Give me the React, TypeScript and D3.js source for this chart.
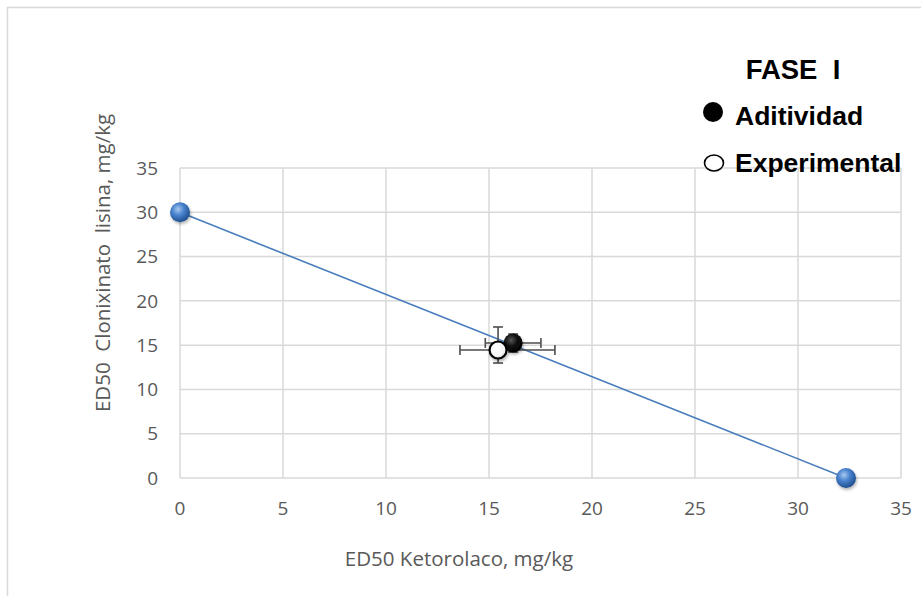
import React from "react";
import * as d3 from "d3";

const W = 921;
const H = 596;

// isobolo line (Fase I)
const lineX = [0, 32.33];
const lineY = [30, 0];

// Aditividad (theoretical) point with error bars
const addX = [16.17];
const addY = [15.24];
const addXLow = [14.82];
const addXHigh = [17.52];
const addYLow = [14.22];
const addYHigh = [16.26];

// Experimental point with error bars
const expX = [15.44];
const expY = [14.45];
const expXLow = [13.59];
const expXHigh = [18.2];
const expYLow = [12.98];
const expYHigh = [17.05];

const xTicks = [0, 5, 10, 15, 20, 25, 30, 35];
const yTicks = [0, 5, 10, 15, 20, 25, 30, 35];

const grey = "#595959";
const gridCol = "#d9d9d9";
const font = "'Open Sans', sans-serif";
const legendFont = "'Liberation Sans', Arial, sans-serif";

function App() {
  const x = d3.scaleLinear().domain([0, 35]).range([180, 901]);
  const y = d3.scaleLinear().domain([0, 35]).range([478, 168]);

  const line = d3
    .line<number>()
    .x((d) => x(lineX[d]))
    .y((d) => y(lineY[d]));

  const cap = 5;
  const errBars = (
    xs: number[], ys: number[], xl: number[], xh: number[], yl: number[], yh: number[], key: string
  ) =>
    xs.map((v, i) => (
      <g key={key + i} stroke="#4d4d4d" strokeWidth={1.6} fill="none">
        <line x1={x(xl[i])} x2={x(xh[i])} y1={y(ys[i])} y2={y(ys[i])} />
        <line x1={x(xl[i])} x2={x(xl[i])} y1={y(ys[i]) - cap} y2={y(ys[i]) + cap} />
        <line x1={x(xh[i])} x2={x(xh[i])} y1={y(ys[i]) - cap} y2={y(ys[i]) + cap} />
        <line x1={x(v)} x2={x(v)} y1={y(yl[i])} y2={y(yh[i])} />
        <line x1={x(v) - cap} x2={x(v) + cap} y1={y(yl[i])} y2={y(yl[i])} />
        <line x1={x(v) - cap} x2={x(v) + cap} y1={y(yh[i])} y2={y(yh[i])} />
      </g>
    ));

  return (
    <div style={{ position: "absolute", left: 0, top: 0 }}>
      <svg width={W} height={H} style={{ display: "block" }}>
        <defs>
          <radialGradient id="blueBall" cx="0.4" cy="0.35" r="0.65">
            <stop offset="0" stopColor="#a9c8f0" />
            <stop offset="0.45" stopColor="#4a84cf" />
            <stop offset="1" stopColor="#1f4f8f" />
          </radialGradient>
          <radialGradient id="blackBall" cx="0.4" cy="0.35" r="0.65">
            <stop offset="0" stopColor="#555" />
            <stop offset="0.5" stopColor="#111" />
            <stop offset="1" stopColor="#000" />
          </radialGradient>
          <radialGradient id="whiteBall" cx="0.4" cy="0.35" r="0.7">
            <stop offset="0" stopColor="#fff" />
            <stop offset="0.7" stopColor="#f4f4f4" />
            <stop offset="1" stopColor="#cfcfcf" />
          </radialGradient>
          <filter id="shadow" x="-50%" y="-50%" width="200%" height="200%">
            <feDropShadow dx="1" dy="2" stdDeviation="1.5" floodColor="#000" floodOpacity="0.3" />
          </filter>
        </defs>

        <rect x={0} y={0} width={W} height={H} fill="#fff" />
        <rect x={7.5} y={7.5} width={W + 40} height={H + 40} fill="none" stroke={gridCol} strokeWidth={1.5} />

        {/* grid */}
        {xTicks.map((t) => (
          <line key={"gx" + t} x1={x(t)} x2={x(t)} y1={y(0)} y2={y(35)} stroke={gridCol} strokeWidth={1.5} />
        ))}
        {yTicks.map((t) => (
          <line key={"gy" + t} x1={x(0)} x2={x(35)} y1={y(t)} y2={y(t)} stroke={gridCol} strokeWidth={1.5} />
        ))}

        {/* tick labels */}
        {xTicks.map((t) => (
          <text key={"tx" + t} x={x(t)} y={y(0) + 37} textAnchor="middle" fontFamily={font} fontSize={19} fill={grey}>
            {t}
          </text>
        ))}
        {yTicks.map((t) => (
          <text key={"ty" + t} x={158} y={y(t)} dy="0.35em" textAnchor="end" fontFamily={font} fontSize={19} fill={grey}>
            {t}
          </text>
        ))}

        {/* axis titles */}
        <text x={459} y={566} textAnchor="middle" fontFamily={font} fontSize={20.5} fill={grey}>
          ED50 Ketorolaco, mg/kg
        </text>
        <text
          transform="translate(110,263) rotate(-90)"
          textAnchor="middle"
          fontFamily={font}
          fontSize={20.5}
          fill={grey}
          style={{ whiteSpace: "pre" }}
        >
          {"ED50  Clonixinato  lisina, mg/kg"}
        </text>

        {/* isobole */}
        <path d={line(lineX.map((_, i) => i)) || ""} fill="none" stroke="#4a7ebb" strokeWidth={1.6} />
        {lineX.map((v, i) => (
          <circle key={"b" + i} cx={x(v)} cy={y(lineY[i])} r={10} fill="url(#blueBall)" filter="url(#shadow)" />
        ))}

        {/* error bars */}
        {errBars(addX, addY, addXLow, addXHigh, addYLow, addYHigh, "ea")}
        {errBars(expX, expY, expXLow, expXHigh, expYLow, expYHigh, "ee")}

        {addX.map((v, i) => (
          <circle key={"a" + i} cx={x(v)} cy={y(addY[i])} r={9.5} fill="url(#blackBall)" filter="url(#shadow)" />
        ))}
        {expX.map((v, i) => (
          <circle
            key={"e" + i}
            cx={x(v)}
            cy={y(expY[i])}
            r={8.5}
            fill="url(#whiteBall)"
            stroke="#000"
            strokeWidth={2.2}
            filter="url(#shadow)"
          />
        ))}

        {/* legend */}
        <text x={793} y={79} textAnchor="middle" fontFamily={legendFont} fontWeight="bold" fontSize={27.5} fill="#000" style={{ whiteSpace: "pre" }}>
          {"FASE  I"}
        </text>
        <circle cx={713} cy={112} r={10} fill="#000" />
        <text x={735} y={125} fontFamily={legendFont} fontWeight="bold" fontSize={26.5} fill="#000">
          Aditividad
        </text>
        <ellipse cx={714} cy={163} rx={9.5} ry={8} fill="#fff" stroke="#000" strokeWidth={1.6} />
        <text x={735} y={172} fontFamily={legendFont} fontWeight="bold" fontSize={26.5} fill="#000">
          Experimental
        </text>
      </svg>
    </div>
  );
}

export default App;
